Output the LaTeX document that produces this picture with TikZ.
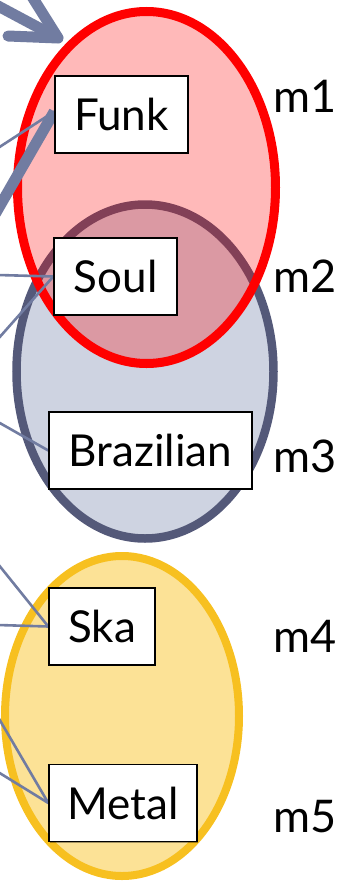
\documentclass[tikz,border=0pt]{standalone}
\usepackage{fontspec}
\setmainfont{Lato}
\usetikzlibrary{shadows}

\definecolor{slate}{RGB}{113,124,161}
\definecolor{soulline}{RGB}{84,89,121}
\definecolor{soulfill}{RGB}{206,211,225}
\definecolor{skaline}{RGB}{247,192,32}
\definecolor{skafill}{RGB}{252,226,150}

\pgfdeclarelayer{clusters}
\pgfdeclarelayer{links}
\pgfsetlayers{clusters,links,main}

\tikzset{
  genre/.style={draw=black, line width=1.4pt, fill=white,
    minimum height=77pt, text height=32pt, text depth=0pt, inner sep=0pt,
    font=\fontsize{44}{48}\selectfont,
    drop shadow={shadow xshift=1.3pt, shadow yshift=-1.3pt, fill=black, opacity=.35}},
  mlabel/.style={anchor=base west, inner sep=0pt, font=\fontsize{45}{48}\selectfont},
  link/.style={draw=slate, line width=2.6pt},
  boldlink/.style={draw=slate, line width=11pt},
  bigarrow/.style={draw=slate, line width=11pt, line cap=round, line join=round}
}

\begin{document}
\begin{tikzpicture}[x=1pt, y=-1pt]
  \useasboundingbox (0,0) rectangle (347,886);
  \clip (0,0) rectangle (347,886);

  % clusters
  \begin{pgfonlayer}{clusters}
    \draw[soulline, line width=8.5pt, fill=soulfill] (145,371.5) ellipse [x radius=128.5, y radius=167];
    \draw[red, line width=9pt, fill=red, fill opacity=0.275, draw opacity=1] (146.5,187.5) ellipse [x radius=129, y radius=176];
    \draw[skaline, line width=8pt, fill=skafill] (122,716) ellipse [x radius=117, y radius=160];
  \end{pgfonlayer}

  % genres
  \node[genre, minimum width=133pt] (Funk) at (121.5,114.5) {Funk};
  \node[genre, minimum width=123pt] (Soul) at (115.5,276.5) {Soul};
  \node[genre, minimum width=203pt] (Brazilian) at (150.5,450.5) {Brazilian};
  \node[genre, minimum width=106pt] (Ska) at (102,626.5) {Ska};
  \node[genre, minimum width=148pt] (Metal) at (123,803) {Metal};

  % model labels
  \node[mlabel] (m1) at (273,112) {m1};
  \node[mlabel] (m2) at (273,292) {m2};
  \node[mlabel] (m3) at (273,472) {m3};
  \node[mlabel] (m4) at (273,652) {m4};
  \node[mlabel] (m5) at (273,832) {m5};

  % loose ends of the incoming links
  \coordinate (a1) at (-2,148);
  \coordinate (a2) at (-10,223);
  \coordinate (b1) at (-2,275);
  \coordinate (b2) at (-2,339);
  \coordinate (c1) at (-2,422);
  \coordinate (d1) at (-2,564);
  \coordinate (d2) at (-2,625);
  \coordinate (e1) at (-2,717);
  \coordinate (e2) at (-2,772);

  % big arrow head at the top
  \coordinate (tip) at (58,38);
  \coordinate (shaft) at (-30,-9);
  \coordinate (barbA) at (8,36);
  \coordinate (barbB) at (26,-13);

  \begin{pgfonlayer}{links}
    \draw[bigarrow] (shaft) -- (tip);
    \draw[bigarrow] (barbA) -- (tip) -- (barbB);

    % links into the genre boxes
    \path[boldlink] (a2) -- ([yshift=3pt]Funk.west);
    \path[link] (a1) -- ([yshift=3pt]Funk.west);
    \path[link] (b1) -- (Soul.west);
    \path[link] (b2) -- (Soul.west);
    \path[link] (c1) -- (Brazilian.west);
    \path[link] (d1) -- (Ska.west);
    \path[link] (d2) -- (Ska.west);
    \path[link] (e1) -- (Metal.west);
    \path[link] (e2) -- (Metal.west);
  \end{pgfonlayer}
\end{tikzpicture}
\end{document}
